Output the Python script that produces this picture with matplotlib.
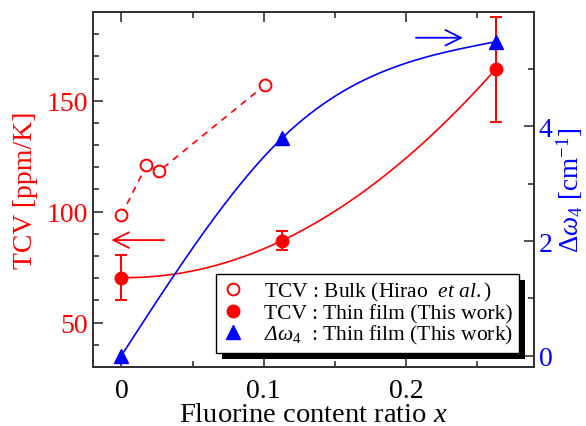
import numpy as np
import matplotlib
matplotlib.use("Agg")
import matplotlib.pyplot as plt
import matplotlib.patheffects as pe
from matplotlib.lines import Line2D

plt.rcParams["font.family"] = "Liberation Serif"
plt.rcParams["mathtext.fontset"] = "custom"
plt.rcParams["mathtext.rm"] = "Liberation Serif"
plt.rcParams["mathtext.it"] = "Liberation Serif:italic"
# italic capital Greek via \mathsf
plt.rcParams["mathtext.sf"] = "Liberation Serif:italic"

# TCV of bulk samples (Hirao et al.)
x_bulk = [0.0, 0.0176, 0.0263, 0.101]
tcv_bulk = [98.5, 120.9, 118.2, 157.1]

# thin films (this work)
x_film = [0.0, 0.113, 0.263]
tcv_film = [70.3, 87.0, 164.2]
tcv_err = [10.2, 4.1, 23.6]
dw4_film = [0.0, 3.80, 5.48]

red = "#ff0000"
blue = "#0000ff"


def natural_spline(x, y, xs):
    x = np.asarray(x, float)
    y = np.asarray(y, float)
    n = len(x)
    h = np.diff(x)
    A = np.zeros((n, n))
    r = np.zeros(n)
    A[0, 0] = A[-1, -1] = 1.0
    for i in range(1, n - 1):
        A[i, i - 1] = h[i - 1]
        A[i, i] = 2 * (h[i - 1] + h[i])
        A[i, i + 1] = h[i]
        r[i] = 6 * ((y[i + 1] - y[i]) / h[i] - (y[i] - y[i - 1]) / h[i - 1])
    M = np.linalg.solve(A, r)
    k = np.clip(np.searchsorted(x, xs) - 1, 0, n - 2)
    a = x[k + 1] - xs
    b = xs - x[k]
    hk = h[k]
    return (M[k] * a**3 / (6 * hk) + M[k + 1] * b**3 / (6 * hk)
            + (y[k] / hk - M[k] * hk / 6) * a + (y[k + 1] / hk - M[k + 1] * hk / 6) * b)


fig = plt.figure(figsize=(5.86, 4.27), dpi=100)
ax = fig.add_axes([0.1587, 0.1382, 0.7526, 0.8314])
ax2 = ax.twinx()

# guide curves through the thin film points
xs = np.linspace(min(x_film), max(x_film), 300)
p_tcv = np.polyfit(x_film, tcv_film, 2)
ax.plot(xs, np.polyval(p_tcv, xs), color=red, lw=1.2, zorder=2)
ax2.plot(xs, natural_spline(x_film, dw4_film, xs), color=blue, lw=1.2, zorder=2)

ax.plot(x_bulk, tcv_bulk, ls=(0, (4, 3.5)), color=red, lw=1.2, zorder=2)
ax.plot(x_bulk, tcv_bulk, ls="none", marker="o", ms=8.5, mfc="white",
        mec=red, mew=1.4, zorder=3)
ax.errorbar(x_film, tcv_film, yerr=tcv_err, fmt="o", color=red, ms=9,
            capsize=4.5, elinewidth=1.4, capthick=1.4, zorder=4)
ax2.plot(x_film, dw4_film, ls="none", marker="^", ms=10, color=blue, zorder=4)

# arrows pointing to the axis of each quantity
ax.annotate("", xy=(-0.009, 87.2), xytext=(0.032, 87.2),
            arrowprops=dict(arrowstyle="->", color=red, lw=1.3,
                            mutation_scale=28))
ax2.annotate("", xy=(0.242, 5.55), xytext=(0.205, 5.55),
             arrowprops=dict(arrowstyle="->", color=blue, lw=1.3,
                             mutation_scale=28))

ax.set_xlim(-0.02, 0.29)
ax.set_ylim(30, 190)
ax2.set_ylim(-0.2, 6)

ax.set_xticks([0, 0.1, 0.2])
ax.set_xticklabels(["0", "0.1", "0.2"])
ax.set_xticks([0.05, 0.15, 0.25], minor=True)
ax.set_yticks([50, 100, 150])
ax.set_yticks(np.arange(40, 190, 10), minor=True)
ax2.set_yticks([0, 2, 4])
ax2.set_yticks([1, 3, 5], minor=True)

ax.tick_params(axis="x", which="both", direction="in", top=True,
               labelsize=20, pad=8, color="#333333")
ax.tick_params(axis="y", which="both", direction="in", right=False,
               labelsize=20, labelcolor=red, color="#333333")
ax2.tick_params(axis="y", which="both", direction="in", labelsize=20,
                labelcolor=blue, color="#333333")
for a in (ax, ax2):
    a.tick_params(which="major", length=7, width=1.2)
    a.tick_params(which="minor", length=4, width=1.2)
    for s in a.spines.values():
        s.set_linewidth(1.4)
        s.set_color("#333333")

ax.set_xlabel("Fluorine content ratio $x$", fontsize=20.5, labelpad=-1)
ax.set_ylabel("TCV [ppm/K]", fontsize=20, color=red, labelpad=6)
ax2.set_ylabel(r"$\Delta\omega_4$ [cm$^{-1}$]", fontsize=19.5, color=blue,
               labelpad=1)

handles = [
    Line2D([], [], ls="none", marker="o", ms=8.5, mfc="white", mec=red, mew=1.4),
    Line2D([], [], ls="none", marker="o", ms=9, color=red),
    Line2D([], [], ls="none", marker="^", ms=10, color=blue),
]
labels = [
    r"TCV : Bulk (Hirao  $\it{et\ al.}$)",
    "TCV : Thin film (This work)",
    r"$\mathsf{\Delta}\omega_4$  : Thin film (This work)",
]
leg = ax2.legend(handles, labels, loc="lower right",
                 bbox_to_anchor=(0.966, 0.040), fontsize=15.5, frameon=True,
                 fancybox=False, edgecolor="black", framealpha=1,
                 handlelength=1.0, handletextpad=0.9, borderpad=0.3,
                 labelspacing=0.0, borderaxespad=0.0)
leg.set_zorder(10)
frame = leg.get_frame()
frame.set_linewidth(1.0)
# solid black drop shadow behind the legend box
frame.set_path_effects([pe.withSimplePatchShadow(offset=(4.3, -4.3),
                                                 shadow_rgbFace="black",
                                                 alpha=1.0)])

fig.savefig("out.png", dpi=100)
